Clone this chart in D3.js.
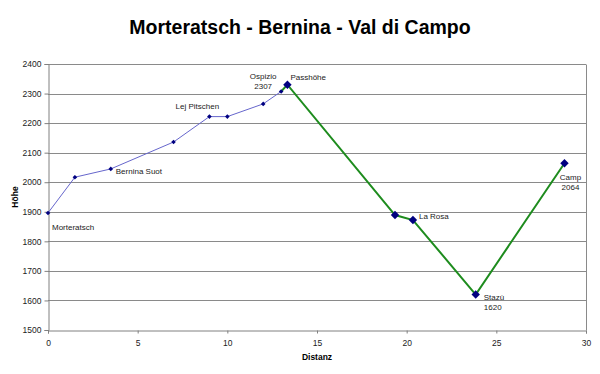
<!DOCTYPE html>
<html>
<head>
<meta charset="utf-8">
<script src="https://cdn.jsdelivr.net/npm/d3@7"></script>
<style>
  html, body { margin: 0; padding: 0; background: #fff; }
  svg { display: block; font-family: "Liberation Sans", Arial, sans-serif; }
</style>
</head>
<body>
<svg id="chart" width="600" height="374"></svg>
<script>
// ---- data ----
const chartTitle = "Morteratsch - Bernina - Val di Campo";
const xTitle = "Distanz";
const yTitle = "Höhe";

// Section 1: Morteratsch -> Ospizio (thin line, small markers)
const ascentDist = [0, 1.5, 3.5, 7, 9, 10, 12, 13];
const ascentAlt  = [1896, 2017, 2045, 2136, 2222, 2222, 2265, 2307];

// Section 2: Ospizio -> Passhöhe -> Camp (thick line, large markers)
const descentDist = [13, 13.35, 19.35, 20.35, 23.85, 28.8];
const descentAlt  = [2307, 2330, 1889, 1872, 1620, 2064];

const xTicks = [0, 5, 10, 15, 20, 25, 30];
const yTicks = [1500, 1600, 1700, 1800, 1900, 2000, 2100, 2200, 2300, 2400];

// labels: [series, index, lines]
const labelSeries = ["a", "a", "a", "a", "d", "d", "d", "d"];
const labelIndex  = [0, 2, 4, 7, 1, 3, 4, 5];
const labelLines  = [["Morteratsch"], ["Bernina Suot"], ["Lej Pitschen"], ["Ospizio", "2307"],
                     ["Passhöhe"], ["La Rosa"], ["Stazù", "1620"], ["Camp", "2064"]];

// ---- layout / style ----
const W = 600, H = 374;
const m = { top: 64, right: 14, bottom: 44, left: 48 };
const labelOffset = [[4, 15, "start"], [5, 3, "start"], [-12, -10, "middle"], [-18, -15, "middle"],
                     [3, -7, "start"], [6, -3, "start"], [8, 3, "start"], [6, 15, "middle"]];
const secondLineAnchor = [null, null, null, null, null, null, [17, "middle"], null];

const svg = d3.select("#chart");
const x = d3.scaleLinear().domain([0, 30]).range([m.left, W - m.right]);
const y = d3.scaleLinear().domain([1500, 2400]).range([H - m.bottom, m.top]);

// gridlines
svg.append("g")
  .selectAll("line").data(yTicks.slice(1)).join("line")
  .attr("x1", x(0)).attr("x2", x(30))
  .attr("y1", d => Math.round(y(d)) + 0.5).attr("y2", d => Math.round(y(d)) + 0.5)
  .attr("stroke", "#8a8a8a").attr("stroke-width", 1);

// right border
svg.append("line")
  .attr("x1", Math.round(x(30)) + 0.5).attr("x2", Math.round(x(30)) + 0.5)
  .attr("y1", Math.round(y(2400)) + 0.5).attr("y2", Math.round(y(1500)) + 0.5)
  .attr("stroke", "#8a8a8a");

// axes
const yAxis = d3.axisLeft(y).tickValues(yTicks).tickSize(4).tickPadding(3).tickFormat(d3.format("d"));
const xAxis = d3.axisBottom(x).tickValues(xTicks).tickSize(3).tickPadding(6).tickFormat(d3.format("d"));

const gy = svg.append("g").attr("transform", `translate(${Math.round(x(0)) + 0.5},0)`).call(yAxis);
const gx = svg.append("g").attr("transform", `translate(0,${Math.round(y(1500)) + 0.5})`).call(xAxis);
[gx, gy].forEach(g => {
  g.select(".domain").attr("stroke", "#808080");
  g.selectAll(".tick line").attr("stroke", "#808080");
  g.selectAll(".tick text").attr("fill", "#222").attr("font-size", "8.5px")
    .attr("font-family", "'Liberation Sans', Arial, sans-serif");
});

// lines
const lineGen = d3.line().x(d => x(d[0])).y(d => y(d[1]));
const ascent = ascentDist.map((d, i) => [d, ascentAlt[i]]);
const descent = descentDist.map((d, i) => [d, descentAlt[i]]);

svg.append("path").datum(ascent).attr("d", lineGen)
  .attr("fill", "none").attr("stroke", "#6666cc").attr("stroke-width", 1);
svg.append("path").datum(descent).attr("d", lineGen)
  .attr("fill", "none").attr("stroke", "#1e8c1e").attr("stroke-width", 2);

// markers
const diamond = s => `M0,${-s}L${s},0L0,${s}L${-s},0Z`;
svg.append("g").selectAll("path").data(ascent).join("path")
  .attr("transform", d => `translate(${x(d[0])},${y(d[1])})`)
  .attr("d", diamond(2.3)).attr("fill", "#000080");
svg.append("g").selectAll("path").data(descent.slice(1)).join("path")
  .attr("transform", d => `translate(${x(d[0])},${y(d[1])})`)
  .attr("d", diamond(4.2)).attr("fill", "#000080");

// data labels
const lg = svg.append("g").attr("font-size", "8px").attr("fill", "#222");
labelLines.forEach((lines, k) => {
  const pt = labelSeries[k] === "a" ? ascent[labelIndex[k]] : descent[labelIndex[k]];
  const px = x(pt[0]), py = y(pt[1]);
  const [dx, dy, anchor] = labelOffset[k];
  lines.forEach((t, j) => {
    let tx = px + dx, ta = anchor;
    if (j > 0 && secondLineAnchor[k]) { tx = px + secondLineAnchor[k][0]; ta = secondLineAnchor[k][1]; }
    lg.append("text").attr("x", tx).attr("y", py + dy + j * 10)
      .attr("text-anchor", ta).attr("dominant-baseline", "middle").text(t);
  });
});

// titles
svg.append("text").attr("x", 300).attr("y", 34).attr("text-anchor", "middle")
  .attr("font-size", "19.5px").attr("font-weight", "bold").attr("fill", "#000").text(chartTitle);
svg.append("text").attr("x", (x(0) + x(30)) / 2).attr("y", 360).attr("text-anchor", "middle")
  .attr("font-size", "8.5px").attr("font-weight", "bold").attr("fill", "#000").text(xTitle);
svg.append("text").attr("transform", `translate(18,${(y(1500) + y(2400)) / 2}) rotate(-90)`)
  .attr("text-anchor", "middle").attr("font-size", "8.5px").attr("font-weight", "bold")
  .attr("fill", "#000").text(yTitle);
</script>
</body>
</html>
